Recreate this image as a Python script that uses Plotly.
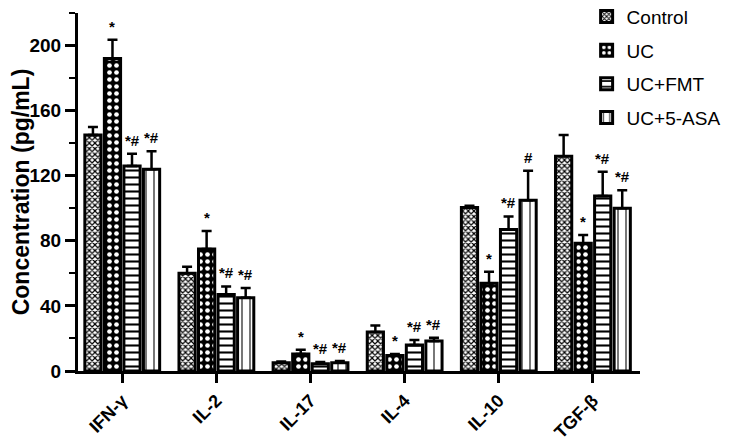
import plotly.graph_objects as go

categories = ["IFN-γ", "IL-2", "IL-17", "IL-4", "IL-10", "TGF-β"]
groups = ["Control", "UC", "UC+FMT", "UC+5-ASA"]

control = [145, 60, 5, 24, 100.5, 132]
uc = [192, 75, 10.5, 9.5, 54, 78.5]
fmt = [126, 47, 4.5, 16, 87, 107.5]
asa = [124, 45, 5, 18.5, 105, 100]

control_err = [5, 4, 0.8, 4, 1, 13]
uc_err = [11.5, 11, 2.5, 1, 7, 5]
fmt_err = [7.5, 5, 1, 3, 8, 15]
asa_err = [11, 6, 1.2, 2, 18, 11]

control_sig = ["", "", "", "", "", ""]
uc_sig = ["*", "*", "*", "*", "*", "*"]
fmt_sig = ["*#", "*#", "*#", "*#", "*#", "*#"]
asa_sig = ["*#", "*#", "*#", "*#", "#", "*#"]

values = [control, uc, fmt, asa]
errors = [control_err, uc_err, fmt_err, asa_err]
sigs = [control_sig, uc_sig, fmt_sig, asa_sig]

patterns = [
    dict(shape="x", fgcolor="black", bgcolor="white", size=4, solidity=0.5, fillmode="replace"),
    dict(shape=".", fgcolor="white", bgcolor="black", size=7, solidity=0.35, fillmode="replace"),
    dict(shape="-", fgcolor="black", bgcolor="white", size=7, solidity=0.3, fillmode="replace"),
    dict(shape="|", fgcolor="#555555", bgcolor="white", size=8, solidity=0.2, fillmode="replace"),
]

FONT = "Liberation Sans, Arial, sans-serif"
bargap = 0.17
n = len(groups)

fig = go.Figure()
for i, g in enumerate(groups):
    fig.add_trace(go.Bar(
        name=g, x=categories, y=values[i],
        legendgroup=g,
        marker=dict(color="white", pattern=patterns[i], line=dict(color="black", width=3)),
        error_y=dict(type="data", symmetric=False, array=errors[i],
                     arrayminus=[0] * len(categories), color="black", thickness=2.5, width=5),
    ))

annotations = []
slot = (1 - bargap) / n
for i in range(n):
    off = (i - (n - 1) / 2) * slot
    for j, c in enumerate(categories):
        if sigs[i][j]:
            annotations.append(dict(
                x=j + off, y=values[i][j] + errors[i][j], xref="x", yref="y",
                text=sigs[i][j], showarrow=False, yanchor="bottom", yshift=3,
                font=dict(family=FONT, size=15, color="black", weight="bold"),
            ))

fig.update_layout(
    width=734, height=433,
    margin=dict(l=70, r=102, t=5, b=70, autoexpand=False),
    paper_bgcolor="white", plot_bgcolor="white",
    barmode="group", bargap=bargap, bargroupgap=0.17,
    font=dict(family=FONT, color="black"),
    legend=dict(x=0.905, y=1.043, xanchor="left", yanchor="top",
                font=dict(family=FONT, size=19, color="black"),
                tracegroupgap=6, traceorder="grouped", bgcolor="rgba(0,0,0,0)"),
    annotations=annotations,
)
fig.update_xaxes(
    type="category", range=[-0.47, 5.5],
    showline=True, linecolor="black", linewidth=3,
    ticks="outside", ticklen=9, tickwidth=3, tickcolor="black",
    tickangle=-45, tickfont=dict(family=FONT, size=18, color="black", weight="bold"),
    showgrid=False, zeroline=False, automargin=False,
)
fig.update_yaxes(
    range=[0, 220], tickvals=[0, 40, 80, 120, 160, 200],
    showline=True, linecolor="black", linewidth=3,
    ticks="outside", ticklen=10, tickwidth=3, tickcolor="black",
    minor=dict(tickvals=[20, 60, 100, 140, 180, 220], ticks="outside", ticklen=6, tickwidth=2, tickcolor="black"),
    tickfont=dict(family=FONT, size=19, color="black", weight="bold"),
    title=dict(text="Concentration (pg/mL)", standoff=5,
               font=dict(family=FONT, size=23, color="black", weight="bold")),
    showgrid=False, zeroline=False, automargin=False,
)

fig.write_html("out.html")
